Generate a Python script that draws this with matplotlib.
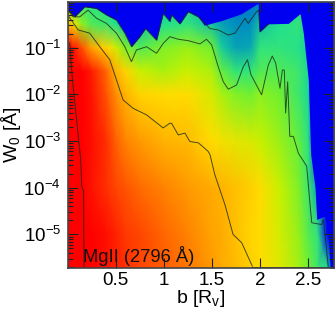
"""
Recreates the MgII (2796 A) equivalent width vs impact parameter map.
"""

import numpy as np
import matplotlib
matplotlib.use('Agg')
import matplotlib.pyplot as plt
from matplotlib.colors import LinearSegmentedColormap

plt.rcParams['font.family'] = ['Liberation Sans', 'DejaVu Sans']
plt.rcParams['mathtext.fontset'] = 'custom'
plt.rcParams['mathtext.rm'] = 'Liberation Sans'
plt.rcParams['mathtext.default'] = 'regular'

# ===== DATA (log10 W0 against b) =====
grid_b = [0.0, 0.05, 0.15, 0.25, 0.4, 0.5, 0.6, 0.75, 1.0, 1.25, 1.5, 1.6, 1.75,
          1.9, 2.0, 2.2, 2.4, 2.5, 2.6, 2.7, 2.77]
grid_logw = [0.0, -0.5, -1.0, -1.5, -2.0, -3.0, -4.0, -5.0, -5.72]

# map level along b, one list per log10 W0 row
row_0 = [0.35, 0.30, 0.28, 0.26, 0.25, 0.22, 0.20, 0.20, 0.22, 0.22, 0.15, 0.12, 0.10, 0.10, 0.10, 0.25, 0.25, 0.20, 0.0, 0.0, 0.0]
row_1 = [0.72, 0.60, 0.42, 0.33, 0.30, 0.25, 0.20, 0.20, 0.25, 0.28, 0.20, 0.15, 0.12, 0.12, 0.20, 0.25, 0.28, 0.22, 0.0, 0.0, 0.0]
row_2 = [1.00, 0.98, 0.88, 0.74, 0.62, 0.52, 0.40, 0.33, 0.40, 0.44, 0.38, 0.22, 0.15, 0.16, 0.28, 0.28, 0.26, 0.22, 0.0, 0.0, 0.0]
row_3 = [1.00, 1.00, 1.00, 0.96, 0.85, 0.70, 0.62, 0.50, 0.46, 0.50, 0.46, 0.36, 0.28, 0.28, 0.33, 0.33, 0.30, 0.24, 0.0, 0.0, 0.0]
row_4 = [1.00, 1.00, 1.00, 0.97, 0.88, 0.78, 0.70, 0.62, 0.60, 0.60, 0.52, 0.46, 0.40, 0.38, 0.42, 0.38, 0.30, 0.24, 0.0, 0.0, 0.0]
row_5 = [1.00, 1.00, 1.00, 0.98, 0.93, 0.86, 0.80, 0.76, 0.70, 0.68, 0.60, 0.58, 0.55, 0.53, 0.50, 0.44, 0.36, 0.27, 0.0, 0.0, 0.0]
row_6 = [1.00, 1.00, 1.00, 0.97, 0.93, 0.90, 0.88, 0.84, 0.80, 0.76, 0.72, 0.70, 0.67, 0.63, 0.60, 0.50, 0.40, 0.30, 0.15, 0.0, 0.0]
row_7 = [1.00, 1.00, 1.00, 1.00, 0.98, 0.95, 0.92, 0.90, 0.85, 0.80, 0.74, 0.72, 0.67, 0.62, 0.60, 0.52, 0.43, 0.34, 0.28, 0.0, 0.0]
row_8 = [1.00, 1.00, 1.00, 1.00, 0.97, 0.95, 0.93, 0.90, 0.87, 0.82, 0.76, 0.72, 0.68, 0.63, 0.60, 0.54, 0.45, 0.38, 0.30, 0.25, 0.0]

# edge of the blue region
edge_b = [0.003, 0.073, 0.177, 0.299, 0.403, 0.507, 0.594, 0.663, 0.75, 0.809, 0.924, 0.993, 1.0625,
          1.08, 1.167, 1.253, 1.358, 1.42, 1.6, 1.8, 1.98, 1.99, 2.0, 2.087, 2.295, 2.417, 2.451,
          2.503, 2.528, 2.573, 2.59, 2.67, 2.712, 2.73, 2.77]
edge_logw = [-0.195, -0.34, -0.124, -0.16, -0.30, -0.41, -0.69, -0.98, -0.765, -0.59, -0.84, -0.27, -0.44,
             -0.30, -0.49, -0.23, -0.34, -0.52, -0.42, -0.28, -0.05, -0.64, -0.66, -0.49, -0.48, -0.27, -0.69,
             -1.69, -3.29, -4.0, -4.68, -4.61, -5.0, -5.72, -5.72]

# outer contour
outer_b = [0.003, 0.073, 0.177, 0.299, 0.403, 0.507, 0.594, 0.663, 0.75, 0.809, 0.924, 0.993, 1.0625,
           1.08, 1.167, 1.253, 1.358, 1.479, 1.566, 1.67, 1.74, 1.844, 1.878, 1.965, 1.986, 2.0, 2.087]
outer_logw = [-0.195, -0.34, -0.124, -0.16, -0.30, -0.41, -0.69, -0.98, -0.765, -0.59, -0.84, -0.27, -0.44,
              -0.30, -0.49, -0.23, -0.34, -0.59, -0.62, -0.73, -0.69, -0.37, -0.48, -0.23, -0.195, -0.66, -0.49]

# second contour
second_b = [0.014, 0.056, 0.125, 0.212, 0.299, 0.403, 0.507, 0.594, 0.663, 0.715, 0.82, 0.924, 0.993, 1.0625,
            1.149, 1.253, 1.375, 1.444, 1.497, 1.566, 1.618, 1.67, 1.757, 1.826, 1.87, 1.906, 2.017, 2.087,
            2.128, 2.163, 2.208, 2.233, 2.253, 2.267, 2.288, 2.31, 2.347, 2.399, 2.486, 2.538, 2.642, 2.66,
            2.694, 2.71]
second_logw = [-0.23, -0.34, -0.34, -0.195, -0.37, -0.48, -0.69, -0.98, -1.30, -1.05, -0.98, -1.12, -0.91, -0.765,
               -0.82, -0.85, -0.92, -0.82, -0.94, -1.41, -1.73, -1.89, -1.80, -1.41, -1.26, -1.58, -2.01, -1.37,
               -1.18, -1.33, -1.87, -1.48, -1.48, -2.40, -1.73, -2.90, -2.90, -3.26, -3.54, -4.75, -4.79, -4.68,
               -5.36, -5.68]

# third contour
third_b = [0.014, 0.108, 0.229, 0.333, 0.4375, 0.507, 0.576, 0.68, 0.82, 0.993, 1.06, 1.08, 1.15, 1.22, 1.27,
           1.36, 1.46, 1.48, 1.53, 1.635, 1.72, 1.81, 1.92]
third_logw = [-0.34, -0.62, -0.69, -0.98, -1.26, -1.69, -2.12, -2.30, -2.44, -2.72, -2.62, -2.62, -2.87, -2.83,
              -3.01, -3.04, -3.22, -3.29, -3.72, -4.36, -5.00, -5.18, -5.68]

# inner contour
inner_b = [0.02, 0.05, 0.08, 0.11, 0.135, 0.145, 0.15, 0.165, 0.17]
inner_logw = [-0.9, -1.7, -2.3, -2.9, -3.4, -3.95, -4.0, -4.05, -5.72]

# lowest contour, running along the floor
floor_b = [1.92, 2.71]
floor_logw = [-5.70, -5.70]

cover_colors = [(0.0, '#0000ff'), (0.12, '#0090c0'), (0.25, '#20e090'), (0.38, '#70f030'),
                (0.5, '#c8f000'), (0.6, '#ffdc00'), (0.75, '#ffa000'), (0.88, '#ff5500'), (1.0, '#ff0000')]

b_ticks = [0.5, 1, 1.5, 2, 2.5]
b_labels = ['0.5', '1', '1.5', '2', '2.5']
w_ticks = [1e-5, 1e-4, 1e-3, 1e-2, 1e-1]

cmap = LinearSegmentedColormap.from_list('cover', cover_colors)
levels = np.array([row_0, row_1, row_2, row_3, row_4, row_5, row_6, row_7, row_8])
w_grid = 10.0 ** np.array(grid_logw)

fig = plt.figure(figsize=(3.35, 3.10), dpi=100)
ax = fig.add_axes([68 / 335, 1 - 268 / 310, 266 / 335, 266 / 310])
ax.set_yscale('log')

ax.pcolormesh(grid_b, w_grid, levels, cmap=cmap, vmin=0, vmax=1, shading='gouraud', rasterized=True)
ax.fill_between(edge_b, 10.0 ** np.array(edge_logw), 1.0, color='#0000f0', lw=0)

line_color = '#1a2a1a'
contours = [(outer_b, outer_logw), (second_b, second_logw), (third_b, third_logw),
            (inner_b, inner_logw), (floor_b, floor_logw)]
for xs, ys in contours:
    ax.plot(xs, 10.0 ** np.array(ys), color=line_color, lw=0.7, alpha=0.8)

ax.set_xlim(0.003, 2.77)
ax.set_ylim(10 ** -5.72, 0.95)
ax.set_xticks(b_ticks)
ax.set_xticklabels(b_labels)
ax.set_yticks(w_ticks)
ax.tick_params(which='both', direction='in', top=True, right=True, color='#222222', width=0.8)
ax.tick_params(which='major', length=7, labelsize=13.5)
ax.tick_params(axis='x', which='major', pad=3)
ax.tick_params(axis='y', which='major', pad=5)
ax.tick_params(which='minor', length=3.5)
for s in ax.spines.values():
    s.set_color('#444444')
    s.set_linewidth(1.2)

ax.set_xlabel('b [R$_v$]', fontsize=14, labelpad=-1)
ax.set_ylabel('W$_0$ [Å]', fontsize=14, labelpad=0)
ax.text(0.055, 0.022, 'MgII (2796 Å)', transform=ax.transAxes, fontsize=13.2, color='#111111')

fig.savefig('out.png', dpi=100)
